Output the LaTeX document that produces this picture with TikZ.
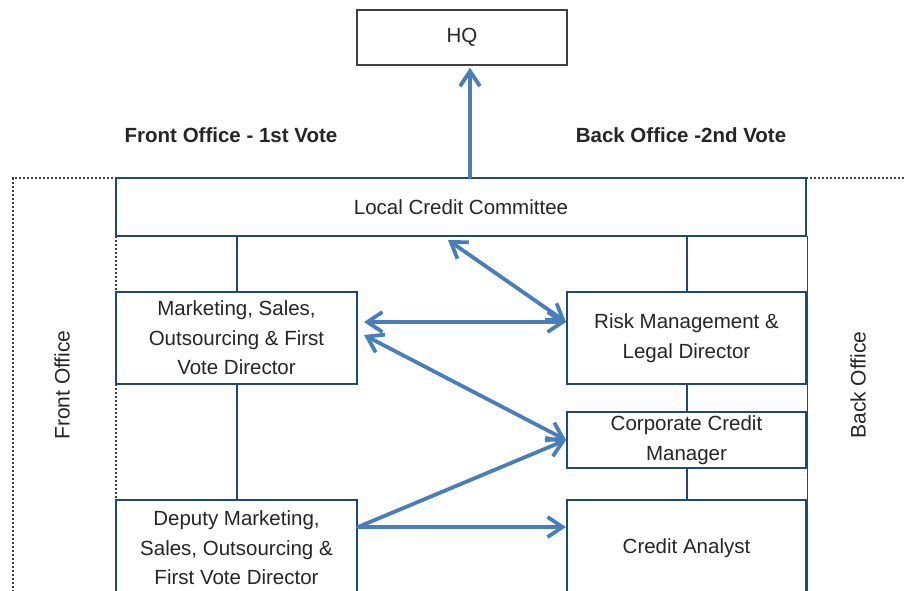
\documentclass[tikz,border=0pt]{standalone}
\usepackage{fontspec}
\setmainfont{Liberation Sans}
\usetikzlibrary{arrows.meta}
\definecolor{boxblue}{HTML}{24467E}
\definecolor{arrblue}{HTML}{4A7EBB}
\definecolor{txt}{HTML}{262626}
\tikzset{
  unit/.style={draw=boxblue,line width=2pt,fill=white,text=txt,align=center,
    inner sep=0pt,font=\fontsize{20.5}{29.5}\selectfont},
  hqbox/.style={draw=black!75,line width=1.6pt,fill=white,text=txt,
    minimum width=210pt,minimum height=55pt,font=\fontsize{20.5}{24}\selectfont},
  link/.style={boxblue,line width=2pt},
  arr/.style={arrblue,line width=3.8pt,line cap=round,
    arrows={-Straight Barb[length=15pt,width=20pt]}},
  barr/.style={arr,arrows={Straight Barb[length=15pt,width=20pt]-Straight Barb[length=15pt,width=20pt]}},
  office/.style={dash pattern=on 2.4pt off 1.6pt,line width=2.4pt,black!75},
  head/.style={font=\fontsize{20.5}{24}\selectfont\bfseries,text=txt},
  side/.style={font=\fontsize{21}{24}\selectfont,text=txt,rotate=90}
}
\begin{document}
\begin{tikzpicture}[x=1pt,y=-1pt]
  \clip (0,0) rectangle (905,590);
  \fill[white] (0,0) rectangle (905,590);
  % office borders
  \draw[office] (13,600) -- (13,178) -- (116,178);
  \draw[office] (806,178) -- (910,178);
  \draw[office] (116,236) -- (116,500);
  \draw[boxblue,line width=1.2pt] (807.5,236) -- (807.5,600);
  % units
  \node[hqbox] (hq) at (462,37.5) {HQ};
  \node[unit,minimum width=690pt,minimum height=58pt] (lcc) at (461,207) {Local Credit Committee};
  \node[unit,minimum width=241pt,minimum height=92pt] (mkt) at (236.5,338) {Marketing, Sales,\\Outsourcing \& First\\Vote Director};
  \node[unit,minimum width=239pt,minimum height=92pt] (risk) at (686.5,338) {Risk Management \&\\Legal Director};
  \node[unit,minimum width=239pt,minimum height=56pt] (ccm) at (686.5,440) {Corporate Credit\\Manager};
  \node[unit,minimum width=241pt,minimum height=96pt] (dep) at (236.5,548) {Deputy Marketing,\\Sales, Outsourcing \&\\First Vote Director};
  \node[unit,minimum width=239pt,minimum height=96pt] (ca) at (686.5,548) {Credit Analyst};
  % lines of report
  \draw[link] (lcc.south -| mkt.north) -- (mkt.north);
  \draw[link] (lcc.south -| risk.north) -- (risk.north);
  \draw[link] (mkt.south) -- (dep.north);
  \draw[link] (risk.south) -- (ccm.north);
  \draw[link] (ccm.south) -- (ca.north);
  % votes
  \draw[arr] ([xshift=8pt]hq.south |- lcc.north) -- ([xshift=8pt,yshift=-2pt]hq.south);
  \draw[barr] ([xshift=-13pt,yshift=-3pt]lcc.south) -- ([yshift=16pt]risk.west);
  \draw[barr] ([xshift=6pt]mkt.east |- 0,322) -- ([yshift=16pt]risk.west);
  \draw[barr] ([xshift=6pt]mkt.east |- 0,335) -- (ccm.west);
  \draw[arr] ([yshift=21pt]dep.east) -- (ccm.west);
  \draw[arr] ([yshift=21pt]dep.east) -- ([yshift=21pt]ca.west);
  % titles
  \node[head] (fv) at (231,135) {Front Office - 1st Vote};
  \node[head] (bv) at (681,135) {Back Office -2nd Vote};
  \node[side] (fo) at (62,385) {Front Office};
  \node[side] (bo) at (858,385) {Back Office};
\end{tikzpicture}
\end{document}
